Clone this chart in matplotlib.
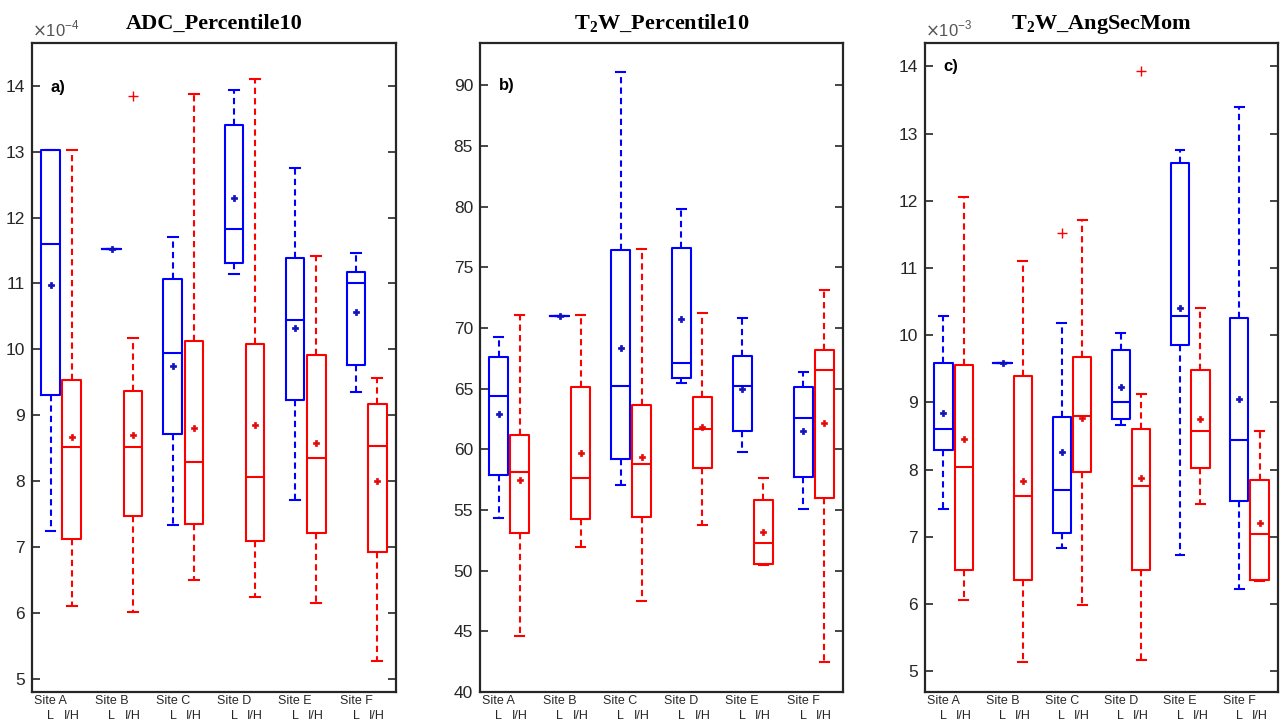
import matplotlib
matplotlib.use('Agg')
import matplotlib.pyplot as plt
import matplotlib.transforms as mtransforms

plt.rcParams['font.family'] = ['Liberation Sans', 'DejaVu Sans']
plt.rcParams['lines.scale_dashes'] = False

sites = ['Site A', 'Site B', 'Site C', 'Site D', 'Site E', 'Site F']
groups = ['L', 'I/H']

# values per box, order: A-L, A-I/H, B-L, B-I/H, ... F-I/H
# panel a: ADC_Percentile10 (x 1e-4)
adc_whislo = [7.24, 6.10, 11.52, 6.02, 7.33, 6.50, 11.14, 6.24, 7.71, 6.15, 9.35, 5.27]
adc_q1     = [9.30, 7.12, 11.52, 7.47, 8.71, 7.35, 11.31, 7.09, 9.23, 7.22, 9.77, 6.93]
adc_med    = [11.60, 8.52, 11.52, 8.52, 9.95, 8.29, 11.83, 8.07, 10.44, 8.35, 11.00, 8.53]
adc_q3     = [13.03, 9.54, 11.52, 9.37, 11.07, 10.12, 13.40, 10.08, 11.38, 9.91, 11.18, 9.17]
adc_whishi = [13.03, 13.02, 11.52, 10.17, 11.70, 13.88, 13.93, 14.10, 12.75, 11.41, 11.47, 9.57]
adc_mean   = [10.98, 8.67, 11.52, 8.70, 9.74, 8.81, 12.29, 8.85, 10.32, 8.58, 10.56, 8.00]
adc_fliers = [[], [], [], [13.85], [], [], [], [], [], [], [], []]

# panel b: T2W_Percentile10
t2p_whislo = [54.38, 44.65, 71.0, 51.96, 57.05, 47.50, 65.47, 53.78, 59.77, 50.45, 55.07, 42.45]
t2p_q1     = [57.90, 53.09, 71.0, 54.27, 59.20, 54.41, 65.88, 58.45, 61.51, 50.56, 57.74, 56.00]
t2p_med    = [64.40, 58.12, 71.0, 57.68, 65.19, 58.81, 67.09, 61.64, 65.19, 52.29, 62.55, 66.54]
t2p_q3     = [67.64, 61.15, 71.0, 65.17, 76.46, 63.62, 76.60, 64.31, 67.67, 55.81, 65.17, 68.16]
t2p_whishi = [69.26, 71.10, 71.0, 71.07, 91.10, 76.51, 79.80, 71.24, 70.80, 57.68, 66.35, 73.16]
t2p_mean   = [62.88, 57.46, 71.0, 59.66, 68.35, 59.39, 70.77, 61.81, 65.00, 53.20, 61.48, 62.19]
t2p_fliers = [[], [], [], [], [], [], [], [], [], [], [], []]

# panel c: T2W_AngSecMom (x 1e-3)
asm_whislo = [7.41, 6.06, 9.59, 5.13, 6.83, 5.99, 8.66, 5.16, 6.73, 7.49, 6.22, 6.34]
asm_q1     = [8.29, 6.51, 9.59, 6.35, 7.06, 7.96, 8.75, 6.50, 9.86, 8.02, 7.54, 6.36]
asm_med    = [8.60, 8.04, 9.59, 7.61, 7.69, 8.80, 9.00, 7.76, 10.29, 8.57, 8.44, 7.04]
asm_q3     = [9.59, 9.56, 9.59, 9.40, 8.78, 9.67, 9.78, 8.61, 12.56, 9.49, 10.26, 7.85]
asm_whishi = [10.29, 12.06, 9.59, 11.11, 10.18, 11.72, 10.03, 9.12, 12.75, 10.40, 13.40, 8.57]
asm_mean   = [8.85, 8.46, 9.59, 7.83, 8.26, 8.77, 9.23, 7.88, 10.40, 8.76, 9.05, 7.20]
asm_fliers = [[], [], [], [], [11.52], [], [], [13.93], [], [], [], []]

blue = '#0000ff'
red = '#ff0000'
dark = '#262626'

fig = plt.figure(figsize=(12.84, 7.2), dpi=100)

panels = [
    dict(rect=[0.0249, 0.0389, 0.2835, 0.9014], title='ADC_Percentile10', tag='a)',
         tag_y=0.932, ylim=(4.8, 14.65), yticks=range(5, 15), offset='-4',
         data=(adc_whislo, adc_q1, adc_med, adc_q3, adc_whishi, adc_mean, adc_fliers)),
    dict(rect=[0.3738, 0.0389, 0.2827, 0.9014], title=r'T$_\mathregular{2}$W_Percentile10',
         tag='b)', tag_y=0.934, ylim=(40, 93.5), yticks=range(40, 91, 5), offset=None,
         data=(t2p_whislo, t2p_q1, t2p_med, t2p_q3, t2p_whishi, t2p_mean, t2p_fliers)),
    dict(rect=[0.7204, 0.0389, 0.2749, 0.9014], title=r'T$_\mathregular{2}$W_AngSecMom',
         tag='c)', tag_y=0.963, ylim=(4.69, 14.35), yticks=range(5, 15), offset='-3',
         data=(asm_whislo, asm_q1, asm_med, asm_q3, asm_whishi, asm_mean, asm_fliers)),
]

positions = []
labels = []
for i, s in enumerate(sites):
    positions += [i, i + 0.345]
    labels += groups

for p in panels:
    ax = fig.add_axes(p['rect'])
    whislo, q1, med, q3, whishi, mean, fliers = p['data']
    stats = []
    for k in range(len(positions)):
        stats.append(dict(whislo=whislo[k], q1=q1[k], med=med[k], q3=q3[k],
                          whishi=whishi[k], mean=mean[k], fliers=fliers[k]))
    res = ax.bxp(stats, positions=positions, widths=0.31, capwidths=0.15,
                 showmeans=True, patch_artist=False,
                 flierprops=dict(marker='+', markeredgecolor=red, markersize=7,
                                 markeredgewidth=1.0, linestyle='none'),
                 meanprops=dict(marker='P', markersize=4.5, markeredgewidth=0.5,
                                linestyle='none'))
    for k in range(len(positions)):
        c = blue if k % 2 == 0 else red
        res['boxes'][k].set(color=c, linewidth=1.5)
        res['medians'][k].set(color=c, linewidth=1.5)
        for w in res['whiskers'][2 * k:2 * k + 2]:
            w.set(color=c, linewidth=1.5, linestyle=(0, (4.5, 3)))
        for cp in res['caps'][2 * k:2 * k + 2]:
            cp.set(color=c, linewidth=1.5)
        res['means'][k].set(markerfacecolor='#1a1a80' if c == blue else '#d01010',
                            markeredgecolor=c)

    ax.set_xlim(-0.31, 5.655)
    ax.set_ylim(*p['ylim'])
    ax.set_yticks(list(p['yticks']))
    ax.set_xticks(positions)
    ax.set_xticklabels(labels, fontsize=9, color=dark)
    ax.tick_params(axis='x', length=0, pad=13)
    ax.tick_params(axis='y', direction='in', length=6, width=1.2, right=True,
                   labelsize=12.5, labelcolor=dark, color=dark, pad=5)
    for sp in ax.spines.values():
        sp.set_linewidth(1.6)
        sp.set_color(dark)

    # site names on the first label row, centred on the L box
    trans = mtransforms.blended_transform_factory(ax.transData, ax.transAxes)
    for i, s in enumerate(sites):
        ax.text(positions[2 * i], -0.004, s, transform=trans, fontsize=9,
                color=dark, ha='center', va='top')

    ax.set_title(p['title'], fontsize=16, fontweight='bold', family='Liberation Serif',
                 pad=10)
    ax.text(0.052, p['tag_y'], p['tag'], transform=ax.transAxes, fontsize=12,
            fontweight='bold', ha='left', va='center')
    if p['offset']:
        ax.text(0.0, 1.006, r'$\times$10$^{\mathregular{' + p['offset'] + '}}$',
                transform=ax.transAxes, fontsize=12, color='#555555',
                ha='left', va='bottom')

fig.savefig('out.png', dpi=100)
